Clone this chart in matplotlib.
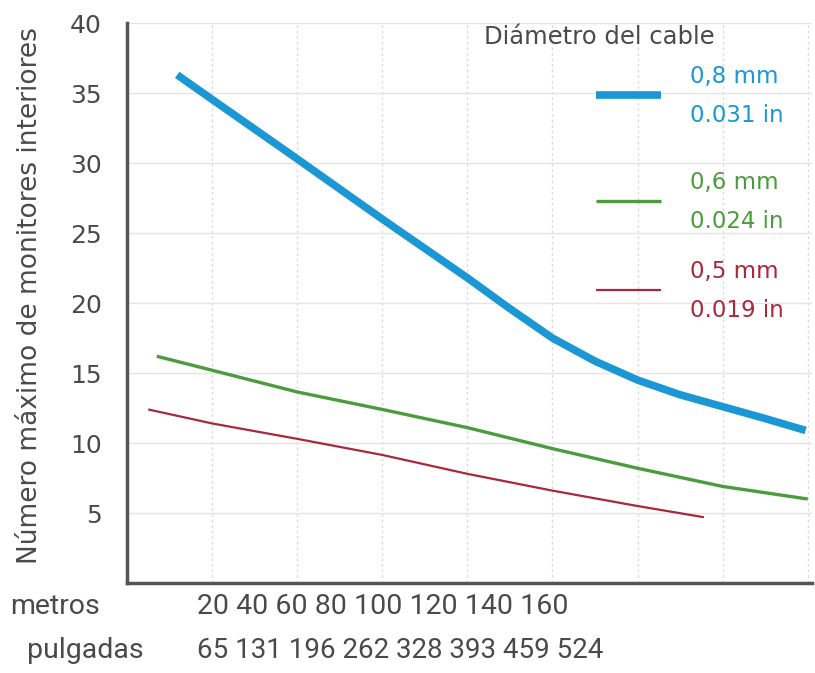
import matplotlib.pyplot as plt

# ── Data ─────────────────────────────────────────────────────
x_08 = [11.8, 20, 40, 60, 80, 90, 100, 110, 120, 130, 140, 150, 159.5]
y_08 = [36.3, 34.55, 30.3, 26.0, 21.8, 19.6, 17.5, 15.85, 14.5, 13.45, 12.6, 11.75, 10.9]

x_06 = [7.0, 20, 40, 60, 80, 100, 120, 140, 160]
y_06 = [16.2, 15.2, 13.65, 12.4, 11.1, 9.6, 8.2, 6.9, 6.0]

x_05 = [5.0, 20, 40, 60, 80, 100, 120, 135.6]
y_05 = [12.4, 11.4, 10.3, 9.15, 7.8, 6.6, 5.5, 4.7]

metros = [20, 40, 60, 80, 100, 120, 140, 160]
pulgadas = [65, 131, 196, 262, 328, 393, 459, 524]
y_ticks = [5, 10, 15, 20, 25, 30, 35, 40]

BLUE = '#1b98d3'
GREEN = '#4a9c3c'
RED = '#a8283c'
GREY = '#4a4a4a'

FONT = ['DejaVu Sans']
FONT2 = ['Roboto', 'DejaVu Sans']

fig = plt.figure(figsize=(8.15, 6.73), dpi=100)
ax = fig.add_axes([0.1558, 0.1337, 0.8405, 0.832])

ax.plot(x_08, y_08, color=BLUE, linewidth=5.5, solid_capstyle='butt',
        solid_joinstyle='round')
ax.plot(x_06, y_06, color=GREEN, linewidth=2.4, solid_capstyle='butt',
        solid_joinstyle='round')
ax.plot(x_05, y_05, color=RED, linewidth=1.6, solid_capstyle='butt',
        solid_joinstyle='round')

ax.set_xlim(0, 161)
ax.set_ylim(0, 40)

ax.set_xticks(metros)
ax.set_xticklabels([])
ax.set_yticks(y_ticks)
ax.set_yticklabels([str(v) for v in y_ticks], family=FONT, fontsize=18, color=GREY)
ax.tick_params(length=0, pad=18)

ax.grid(axis='y', color='#e4e4e4', linewidth=1.0)
ax.grid(axis='x', color='#dcdcdc', linewidth=1.0, linestyle=(0, (2, 2)))
ax.set_axisbelow(True)

for s in ('top', 'right'):
    ax.spines[s].set_visible(False)
for s in ('left', 'bottom'):
    ax.spines[s].set_color('#555555')
    ax.spines[s].set_linewidth(2.5)

ax.set_ylabel('Número máximo de monitores interiores', family=FONT,
              fontsize=19, color=GREY)
ax.yaxis.set_label_coords(-0.123, 0.5125)

# legend block drawn by hand
ax.text(0.521, 0.975, 'Diámetro del cable', transform=ax.transAxes,
        family=FONT, fontsize=17.5, color=GREY, va='center', ha='left')
entries = [
    (BLUE, 5.5, '0,8 mm', '0.031 in', 0.872),
    (GREEN, 2.4, '0,6 mm', '0.024 in', 0.682),
    (RED, 1.6, '0,5 mm', '0.019 in', 0.523),
]
for col, lw, mm, inch, yc in entries:
    ax.plot([0.684, 0.779], [yc, yc], transform=ax.transAxes, color=col,
            linewidth=lw, solid_capstyle='butt', clip_on=False)
    ax.text(0.822, yc + 0.033, mm, transform=ax.transAxes, family=FONT,
            fontsize=16.5, color=col, va='center', ha='left')
    ax.text(0.822, yc - 0.037, inch, transform=ax.transAxes, family=FONT,
            fontsize=16.5, color=col, va='center', ha='left')

# distance rows under the axis
fig.text(10 / 815, 1 - 607 / 673, 'metros', family=FONT2, fontsize=20.5,
         color=GREY, va='center', ha='left')
fig.text(197 / 815, 1 - 607 / 673, ' '.join(str(m) for m in metros),
         family=FONT2, fontsize=20.5, color=GREY, va='center', ha='left')
fig.text(27 / 815, 1 - 650 / 673, 'pulgadas', family=FONT2, fontsize=20.5,
         color=GREY, va='center', ha='left')
fig.text(197 / 815, 1 - 650 / 673, ' '.join(str(p) for p in pulgadas),
         family=FONT2, fontsize=20, color=GREY, va='center', ha='left')

fig.savefig('out.png', dpi=100)
